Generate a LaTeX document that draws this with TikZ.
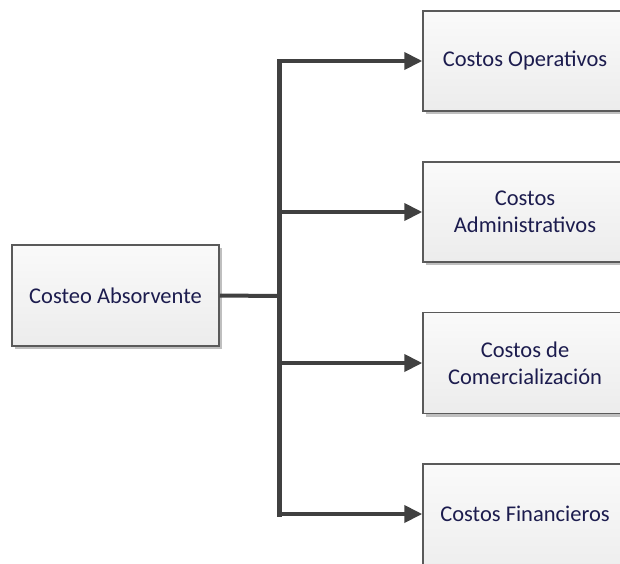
\documentclass[tikz,border=0pt]{standalone}
\usepackage{fontspec}
\setmainfont{Carlito}
\usetikzlibrary{arrows.meta,shadows}
\definecolor{boxline}{HTML}{5A5A5A}
\definecolor{linkline}{HTML}{404040}
\definecolor{labeltext}{HTML}{1C1C4E}
\definecolor{boxtop}{HTML}{FAFAFA}
\definecolor{boxbottom}{HTML}{ECECEC}
\tikzset{
  costbox/.style={draw=boxline, line width=1.5pt, rectangle,
    top color=boxtop, bottom color=boxbottom,
    drop shadow={shadow xshift=3pt, shadow yshift=-3pt, fill=black!25, opacity=1},
    text=labeltext, font=\fontsize{22.5}{27}\selectfont, align=center,
    inner sep=0pt},
  costlabel/.style={text=labeltext, font=\fontsize{22.5}{27}\selectfont,
    align=center, inner sep=0pt},
  link/.style={draw=linkline, line width=4pt},
  arrowlink/.style={link, -{Triangle[length=18pt,width=17pt]}}
}
\begin{document}
\begin{tikzpicture}[x=1pt,y=-1pt]
  \useasboundingbox (0,0) rectangle (620,563);
  \clip (0,0) rectangle (620,563);
  % source box
  \node[costbox, minimum width=207pt, minimum height=101pt] (src) at (115.5,295.5) {Costeo Absorvente};
  % target boxes, running past the right-hand edge
  \node[costbox, minimum width=240pt, minimum height=100pt,
        label={[costlabel, xshift=-18pt]center:Costos Operativos}] (op) at (543,61) {};
  \node[costbox, minimum width=240pt, minimum height=100pt,
        label={[costlabel, xshift=-18pt]center:Costos\\Administrativos}] (adm) at (543,212) {};
  \node[costbox, minimum width=240pt, minimum height=101pt,
        label={[costlabel, xshift=-18pt]center:Costos de\\Comercialización}] (com) at (543,363) {};
  \node[costbox, minimum width=240pt, minimum height=120pt,
        label={[costlabel, xshift=-18pt, yshift=10pt]center:Costos Financieros}] (fin) at (543,524) {};
  % trunk coordinates
  \coordinate (jsrc) at (279,296);
  \coordinate (jop) at (279,61);
  \coordinate (jadm) at (279,212);
  \coordinate (jcom) at (279,363);
  \coordinate (jfin) at (279,514);
  % connectors
  \draw[link] (src.east) -- (jsrc);
  \draw[link, line width=5pt, line cap=rect] (jop) -- (jfin);
  \draw[arrowlink] (jop) -- (op.west |- jop);
  \draw[arrowlink] (jadm) -- (adm.west |- jadm);
  \draw[arrowlink] (jcom) -- (com.west |- jcom);
  \draw[arrowlink] (jfin) -- (fin.west |- jfin);
\end{tikzpicture}
\end{document}
